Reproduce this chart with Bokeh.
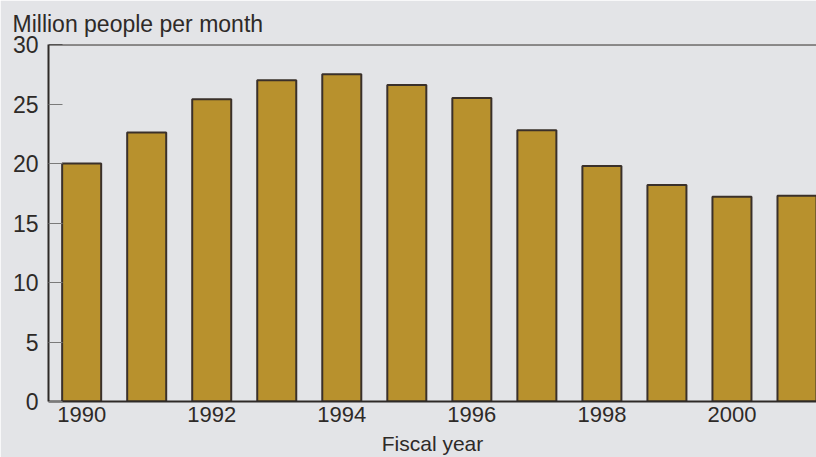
from bokeh.plotting import figure
from bokeh.models import Range1d, FixedTicker, Span
from bokeh.embed import file_html
from bokeh.resources import INLINE

years = [1990, 1991, 1992, 1993, 1994, 1995, 1996, 1997, 1998, 1999, 2000, 2001]
participants = [20.0, 22.6, 25.4, 27.0, 27.5, 26.6, 25.5, 22.8, 19.8, 18.2, 17.2, 17.3]
x_ticks = [1990, 1992, 1994, 1996, 1998, 2000]
y_ticks = [0, 5, 10, 15, 20, 25, 30]

BG = "#e3e4e7"
INK = "#2e2a28"
FONT = "Liberation Sans"

p = figure(width=816, height=457, output_backend="svg", toolbar_location=None,
           x_range=Range1d(1989.49, 2001.30), y_range=Range1d(0, 30),
           min_border_left=48, min_border_right=0, min_border_top=10, min_border_bottom=53)
p.background_fill_color = BG
p.border_fill_color = BG
p.outline_line_color = None
p.grid.visible = False

p.vbar(x=years, top=participants, width=0.6, fill_color="#b8912d",
       line_color="#3a302a", line_width=2)

p.add_layout(Span(location=30, dimension="width", line_color=INK, line_width=2))

p.title.text = "Million people per month"
p.title.align = "left"
p.title.offset = -36
p.title.text_font = FONT
p.title.text_font_size = "23px"
p.title.text_font_style = "normal"
p.title.text_color = INK
p.title.standoff = 16

ya = p.yaxis[0]
ya.ticker = FixedTicker(ticks=y_ticks)
ya.major_tick_in = 14
ya.major_tick_out = 0
ya.minor_tick_in = 0
ya.minor_tick_out = 0
ya.major_tick_line_color = "#7a7a7a"
ya.axis_line_color = INK
ya.axis_line_width = 2
ya.major_label_text_font = FONT
ya.major_label_text_font_size = "23px"
ya.major_label_text_color = INK
ya.major_label_standoff = 10

xa = p.xaxis[0]
xa.ticker = FixedTicker(ticks=x_ticks)
xa.major_tick_in = 0
xa.major_tick_out = 0
xa.minor_tick_in = 0
xa.minor_tick_out = 0
xa.axis_line_color = INK
xa.axis_line_width = 2
xa.major_label_text_font = FONT
xa.major_label_text_font_size = "22px"
xa.major_label_text_color = INK
xa.major_label_standoff = 5
xa.axis_label = "Fiscal year"
xa.axis_label_text_font = FONT
xa.axis_label_text_font_size = "21px"
xa.axis_label_text_font_style = "normal"
xa.axis_label_text_color = INK
xa.axis_label_standoff = 7

open("out.html", "w").write(file_html(p, INLINE))
